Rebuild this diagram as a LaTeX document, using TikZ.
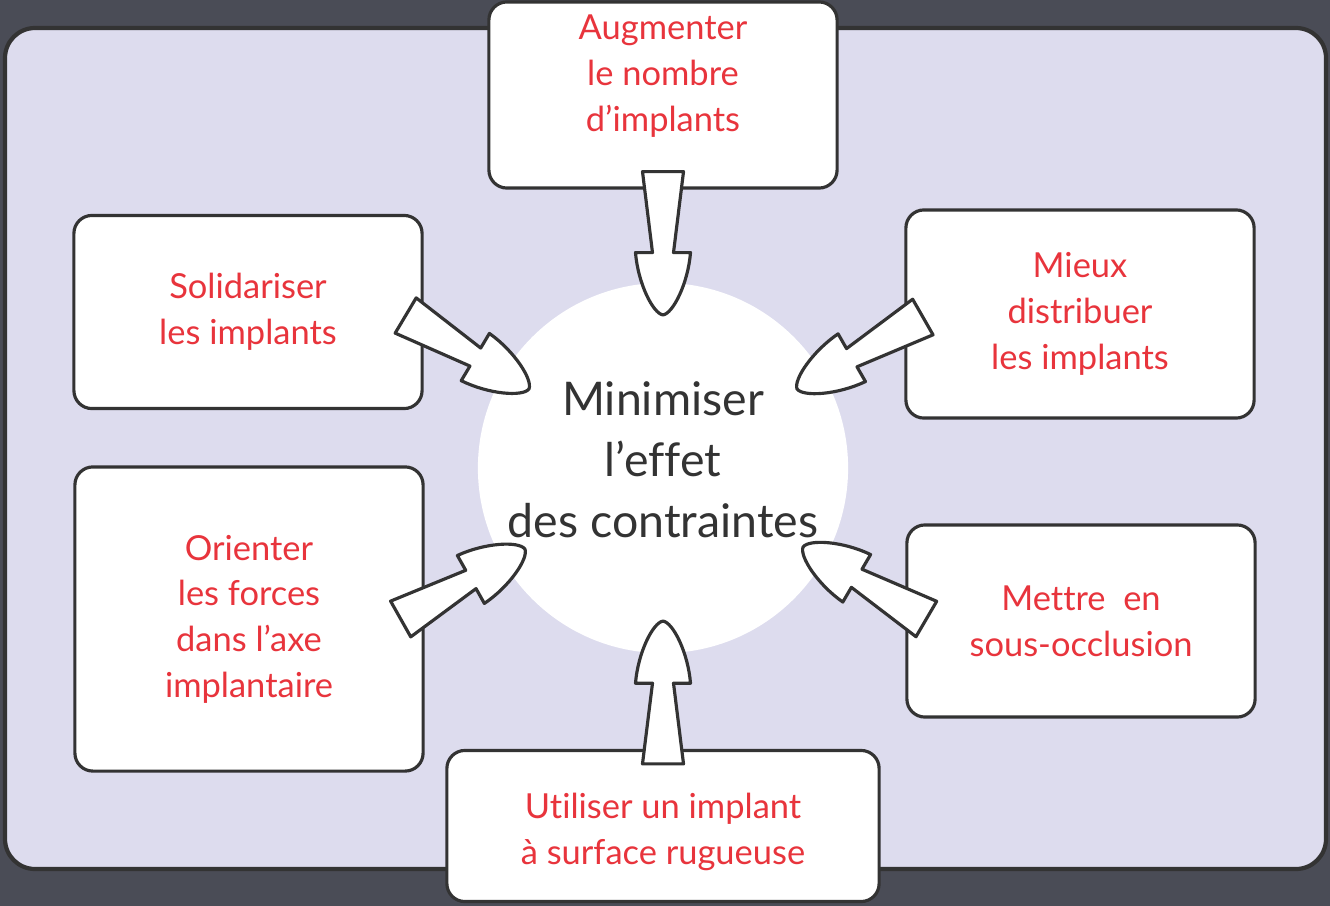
\documentclass[tikz,border=0pt]{standalone}
\usepackage{fontspec}
\setmainfont{Lato}[Ligatures=NoCommon]
\usetikzlibrary{calc}
\definecolor{bgdark}{HTML}{4A4C56}
\definecolor{lavender}{HTML}{DDDCEE}
\definecolor{txtred}{HTML}{E8343C}
\definecolor{ink}{HTML}{333333}

\begin{document}
\begin{tikzpicture}[
  x=0.01cm, y=-0.01cm,
  boxtext/.style={align=center, text=txtred, font=\fontsize{9.8}{13}\selectfont},
  midtext/.style={align=center, text=ink, font=\fontsize{13.2}{17.4}\selectfont},
  box/.style={draw=ink, line width=0.9pt, fill=white, rounded corners=0.18cm,
    minimum width=3.48cm, boxtext},
  blockarr/.style={draw=ink, line width=0.9pt, fill=white, line join=round,
    to path={
      ($(\tikztostart)!0.205cm!90:(\tikztotarget)$)
      -- ($(\tikztostart)!0.565!(\tikztotarget)!0.105cm!90:(\tikztotarget)$)
      -- ($(\tikztostart)!0.565!(\tikztotarget)!0.275cm!90:(\tikztotarget)$)
      .. controls ($(\tikztostart)!0.78!(\tikztotarget)!0.25cm!90:(\tikztotarget)$)
         and ($(\tikztostart)!0.99!(\tikztotarget)!0.1cm!90:(\tikztotarget)$) .. (\tikztotarget)
      .. controls ($(\tikztostart)!0.99!(\tikztotarget)!0.1cm!-90:(\tikztotarget)$)
         and ($(\tikztostart)!0.78!(\tikztotarget)!0.25cm!-90:(\tikztotarget)$)
      .. ($(\tikztostart)!0.565!(\tikztotarget)!0.275cm!-90:(\tikztotarget)$)
      -- ($(\tikztostart)!0.565!(\tikztotarget)!0.105cm!-90:(\tikztotarget)$)
      -- ($(\tikztostart)!0.205cm!-90:(\tikztotarget)$)
      -- cycle}}
]
\useasboundingbox (0,0) rectangle (1330,906);
\fill[bgdark] (0,0) rectangle (1330,906);
\draw[draw=ink, line width=1.2pt, fill=lavender, rounded corners=0.3cm] (5,28) rectangle (1326,869);

\node[circle, fill=white, minimum size=3.7cm,
  label={[midtext, yshift=0.08cm]center:Minimiser\\l’effet\\des contraintes}] (circ) at (663,468) {};

\node[box, minimum height=1.86cm,
  label={[boxtext, yshift=0.19cm]center:Augmenter\\le nombre\\d’implants}] (aug) at (663,95) {};
\node[box, minimum height=1.93cm] (sol) at (248,312) {Solidariser\\les implants};
\node[box, minimum height=2.08cm] (dist) at (1080,314) {Mieux\\distribuer\\les implants};
\node[box, minimum height=3.04cm] (ori) at (249,619) {Orienter\\les forces\\dans l’axe\\implantaire};
\node[box, minimum height=1.92cm] (occl) at (1081,621) {Mettre~ en\\sous-occlusion};
\node[box, minimum width=4.32cm, minimum height=1.51cm,
  label={[boxtext, yshift=-0.06cm]center:Utiliser un implant\\à surface rugueuse}] (rug) at (663,826) {};

\coordinate (s1) at ([yshift=0.18cm]aug.south);
\coordinate (t1) at ($(circ.center)+(90:1.53cm)$);
\coordinate (s2) at ([xshift=-0.18cm, yshift=-0.035cm]sol.east);
\coordinate (t2) at ($(circ.center)+(149.5:1.555cm)$);
\coordinate (s3) at ([xshift=0.185cm, yshift=-0.03cm]dist.west);
\coordinate (t3) at ($(circ.center)+(30.5:1.555cm)$);
\coordinate (s4) at ([xshift=-0.24cm]ori.east);
\coordinate (t4) at ($(circ.center)+(210.4:1.6cm)$);
\coordinate (s5) at ([xshift=0.21cm, yshift=0.02cm]occl.west);
\coordinate (t5) at ($(circ.center)+(-29.4:1.607cm)$);
\coordinate (s6) at ([yshift=-0.15cm]rug.north);
\coordinate (t6) at ($(circ.center)+(270:1.53cm)$);

\draw[blockarr] (s1) to (t1);
\draw[blockarr] (s2) to (t2);
\draw[blockarr] (s3) to (t3);
\draw[blockarr] (s4) to (t4);
\draw[blockarr] (s5) to (t5);
\draw[blockarr] (s6) to (t6);
\end{tikzpicture}
\end{document}
